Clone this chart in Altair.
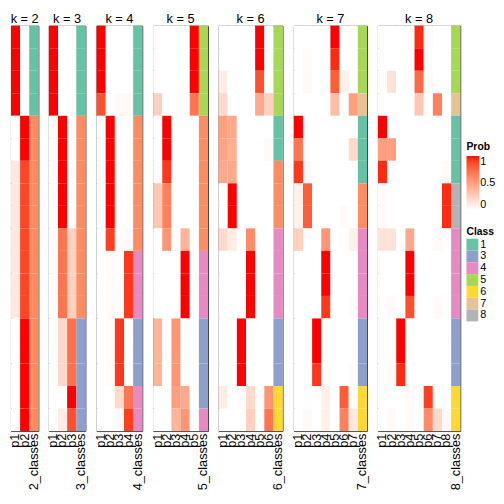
import altair as alt
import pandas as pd

ROWS = list(range(18))

PROB_K2 = [
    [1, 0], [1, 0], [1, 0], [1, 0],
    [0, 1], [0, 1],
    [0.12, 0.88], [0.12, 0.88], [0.12, 0.88], [0.12, 0.88], [0.12, 0.88], [0.12, 0.88], [0.12, 0.88],
    [0, 1], [0, 1], [0, 1], [0, 1], [0, 1],
]
CLASS_K2 = [1, 1, 1, 1, 2, 2, 2, 2, 2, 2, 2, 2, 2, 2, 2, 2, 2, 2]

PROB_K3 = [
    [1, 0, 0], [1, 0, 0], [1, 0, 0], [1, 0, 0],
    [0, 1, 0], [0, 1, 0], [0, 1, 0], [0, 1, 0], [0, 1, 0],
    [0, 0.7, 0.25], [0, 0.7, 0.25], [0, 0.7, 0.25], [0, 0.7, 0.25],
    [0, 0.2, 0.72], [0, 0.2, 0.72], [0, 0.2, 0.72],
    [0, 0, 1], [0, 0.1, 0.85],
]
CLASS_K3 = [1, 1, 1, 1, 2, 2, 2, 2, 2, 2, 2, 2, 2, 3, 3, 3, 3, 3]

PROB_K4 = [
    [1, 0, 0, 0], [1, 0, 0, 0], [1, 0, 0, 0], [0.85, 0, 0.03, 0.03],
    [0, 1, 0, 0], [0, 1, 0, 0], [0, 1, 0, 0], [0, 1, 0, 0], [0, 1, 0, 0],
    [0, 0.9, 0, 0.03],
    [0, 0.02, 0, 0.92], [0, 0.02, 0, 0.92], [0, 0.02, 0, 0.92],
    [0, 0.02, 0.92, 0], [0, 0.02, 0.92, 0], [0, 0.02, 0.92, 0],
    [0, 0, 0.2, 0.7], [0, 0, 0.03, 0.9],
]
CLASS_K4 = [1, 1, 1, 1, 2, 2, 2, 2, 2, 2, 4, 4, 4, 3, 3, 3, 4, 4]

PROB_K5 = [
    [0, 0, 0, 0, 1], [0, 0, 0, 0, 1], [0, 0, 0, 0, 1], [0.25, 0, 0, 0, 0.7],
    [0, 1, 0, 0, 0], [0, 1, 0, 0, 0], [0.02, 0.92, 0, 0, 0],
    [0.3, 0.65, 0, 0, 0], [0.3, 0.65, 0, 0, 0],
    [0, 0.55, 0, 0.4, 0],
    [0, 0, 0, 1, 0], [0, 0, 0, 1, 0], [0, 0, 0, 1, 0],
    [0.4, 0, 0.55, 0, 0], [0.4, 0, 0.55, 0, 0], [0.4, 0, 0.55, 0, 0],
    [0, 0, 0.5, 0.45, 0], [0, 0, 0.4, 0.55, 0],
]
CLASS_K5 = [5, 5, 5, 5, 2, 2, 2, 2, 2, 2, 4, 4, 4, 3, 3, 3, 3, 4]

PROB_K6 = [
    [0, 0, 0, 0, 1, 0], [0, 0, 0, 0, 1, 0], [0.1, 0, 0, 0, 0.85, 0], [0.2, 0, 0, 0, 0.45, 0.25],
    [0.5, 0.45, 0, 0, 0, 0], [0.48, 0.42, 0, 0, 0, 0.03], [0.45, 0.45, 0, 0, 0, 0],
    [0, 1, 0, 0, 0, 0], [0, 1, 0, 0, 0, 0],
    [0.2, 0.1, 0, 0.6, 0, 0],
    [0, 0, 0, 1, 0, 0], [0, 0, 0, 1, 0, 0], [0, 0, 0, 1, 0, 0],
    [0, 0, 1, 0, 0, 0], [0, 0, 1, 0, 0, 0], [0, 0, 1, 0, 0, 0],
    [0.1, 0, 0.02, 0.2, 0, 0.55], [0, 0, 0, 0.25, 0, 0.7],
]
CLASS_K6 = [5, 5, 5, 5, 1, 1, 2, 2, 2, 4, 4, 4, 4, 3, 3, 3, 6, 6]

PROB_K7 = [
    [0, 0, 0, 0, 1, 0, 0], [0, 0.02, 0, 0, 0.95, 0, 0], [0, 0.03, 0, 0, 0.8, 0.08, 0],
    [0, 0, 0, 0, 0.35, 0, 0.5],
    [1, 0, 0, 0, 0, 0, 0], [0.7, 0, 0, 0, 0, 0, 0.2], [0.92, 0.03, 0, 0, 0, 0, 0],
    [0.08, 0.8, 0, 0, 0, 0, 0], [0.08, 0.8, 0, 0, 0, 0.02, 0],
    [0.25, 0, 0, 0.55, 0, 0, 0.08],
    [0, 0, 0, 1, 0, 0, 0], [0, 0, 0, 1, 0, 0, 0], [0, 0, 0, 0.92, 0, 0, 0.02],
    [0, 0, 1, 0, 0, 0, 0], [0, 0, 1, 0, 0, 0, 0], [0, 0, 0.92, 0, 0, 0, 0.02],
    [0, 0, 0, 0.08, 0, 0.8, 0], [0, 0.03, 0, 0.08, 0, 0.65, 0.12],
]
CLASS_K7 = [5, 5, 5, 7, 1, 1, 1, 2, 2, 4, 4, 4, 4, 3, 3, 3, 6, 6]

PROB_K8 = [
    [0, 0, 0, 0, 0.95, 0.02, 0, 0], [0, 0, 0, 0, 1, 0, 0, 0], [0, 0.15, 0, 0, 0.75, 0.02, 0, 0],
    [0, 0, 0, 0, 0.3, 0, 0.65, 0],
    [1, 0, 0, 0, 0, 0, 0, 0], [0.5, 0.5, 0, 0, 0, 0, 0, 0], [0.95, 0, 0, 0, 0, 0, 0, 0.02],
    [0.02, 0, 0, 0, 0, 0, 0, 0.95], [0.02, 0, 0, 0, 0, 0, 0, 0.95],
    [0.15, 0.15, 0, 0.45, 0, 0, 0.03, 0],
    [0, 0, 0, 1, 0, 0, 0, 0], [0, 0, 0, 1, 0, 0, 0, 0], [0, 0.03, 0, 0.85, 0, 0, 0.03, 0],
    [0, 0, 1, 0, 0, 0, 0, 0], [0, 0, 1, 0, 0, 0, 0, 0], [0, 0.03, 0.95, 0, 0, 0, 0, 0],
    [0, 0, 0, 0.03, 0, 0.9, 0, 0], [0, 0.03, 0, 0.03, 0, 0.6, 0.2, 0.03],
]
CLASS_K8 = [5, 5, 5, 7, 1, 1, 1, 8, 8, 4, 4, 4, 4, 3, 3, 3, 6, 6]

PROBS = {2: PROB_K2, 3: PROB_K3, 4: PROB_K4, 5: PROB_K5, 6: PROB_K6, 7: PROB_K7, 8: PROB_K8}
CLASSES = {2: CLASS_K2, 3: CLASS_K3, 4: CLASS_K4, 5: CLASS_K5, 6: CLASS_K6, 7: CLASS_K7, 8: CLASS_K8}

CLASS_DOMAIN = ["1", "2", "3", "4", "5", "6", "7", "8"]
CLASS_COLORS = ["#66C2A5", "#FC8D62", "#8DA0CB", "#E78AC3", "#A6D854", "#FFD92F", "#E5C494", "#B3B3B3"]
LEGEND_CLASSES = ["1", "3", "4", "5", "6", "7", "8"]

FONT = "Liberation Sans"
COL_W = 9.3
PANEL_H = 412

prob_scale = alt.Scale(domain=[0, 1], range=["#FFFFFF", "#FF0000"], interpolate="lab")
prob_legend = alt.Legend(
    title="Prob", orient="none", legendX=463, legendY=118, values=[0, 0.5, 1],
    format="~g", gradientLength=55, gradientThickness=13, gradientStrokeWidth=0,
    labelFontSize=11, titleFontSize=10.5, titleFontWeight="bold", labelOffset=1,
    direction="vertical", titlePadding=4,
)
class_scale = alt.Scale(domain=CLASS_DOMAIN, range=CLASS_COLORS)
class_legend = alt.Legend(
    title="Class", orient="none", legendX=463, legendY=205, values=LEGEND_CLASSES,
    symbolType="square", symbolSize=144, symbolStrokeWidth=0, symbolOpacity=1,
    labelFontSize=11, titleFontSize=10.5, titleFontWeight="bold", rowPadding=0,
    titlePadding=1, labelOffset=2,
)

panels = []
for k in range(2, 9):
    cols = [f"p{i}" for i in range(1, k + 1)]
    ccol = f"{k}_classes"
    prob_rows = []
    for r, vals in enumerate(PROBS[k]):
        for c, v in zip(cols, vals):
            prob_rows.append({"row": r, "col": c, "prob": v})
    cls_rows = [{"row": r, "col": ccol, "cls": str(c)} for r, c in enumerate(CLASSES[k])]

    x = alt.X(
        "col:N",
        scale=alt.Scale(domain=cols + [ccol], paddingInner=0, paddingOuter=0),
        axis=alt.Axis(
            title=None, labelAngle=270, domain=False, ticks=False, labelPadding=2,
            labelFontSize=13, labelFont=FONT, labelColor="#000000", labelOverlap=False,
            labelBound=False,
        ),
    )
    y = alt.Y("row:O", scale=alt.Scale(domain=ROWS, paddingInner=0, paddingOuter=0), axis=None)

    p_layer = alt.Chart(pd.DataFrame(prob_rows)).mark_rect().encode(
        x=x, y=y, fill=alt.Fill("prob:Q", scale=prob_scale, legend=prob_legend)
    )
    c_layer = alt.Chart(pd.DataFrame(cls_rows)).mark_rect().encode(
        x=x, y=y, color=alt.Color("cls:N", scale=class_scale, legend=class_legend)
    )
    panel = alt.layer(p_layer, c_layer).properties(
        width=COL_W * (k + 1),
        height=PANEL_H,
        title=alt.TitleParams(f"k = {k}", fontSize=13, fontWeight="normal", font=FONT,
                              anchor="middle", offset=0, color="#000000"),
    )
    panels.append(panel)

chart = (
    alt.hconcat(*panels, spacing=10.5, bounds="flush")
    .resolve_scale(x="independent", fill="shared", color="shared")
    .properties(padding=0)
    .configure(font=FONT)
    .configure_view(stroke="#444444", strokeWidth=1)
    .configure_legend(labelFont=FONT, titleFont=FONT, labelColor="#000000", titleColor="#000000")
)

chart.save("out.html", embed_options={"renderer": "svg", "actions": False})
